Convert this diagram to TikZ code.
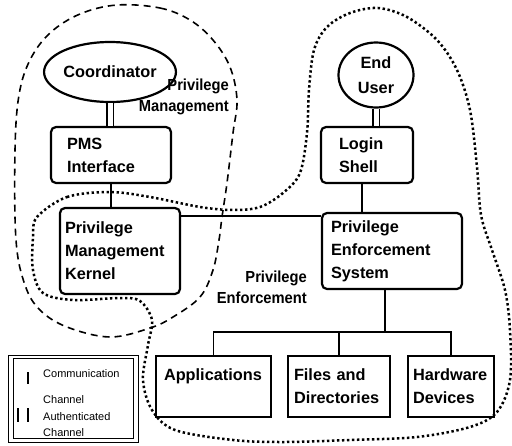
\documentclass[tikz,border=0pt]{standalone}
\usepackage{fontspec}
\setmainfont{Liberation Sans}
\newfontfamily\narrowsans[FakeStretch=0.92]{Liberation Sans}
\usetikzlibrary{shapes.geometric}

\begin{document}
\begin{tikzpicture}[x=1pt, y=-1pt,
    box/.style={draw, line width=2.2pt, rounded corners=5pt, inner sep=0pt,
      align=left, font=\fontsize{16.3}{23}\selectfont\bfseries},
    leaf/.style={box, sharp corners},
    actor/.style={draw, ellipse, line width=2.2pt, inner sep=0pt, align=center,
      font=\fontsize{16.3}{25}\selectfont\bfseries},
    link/.style={line width=1.9pt},
    authlink/.style={line width=1.9pt, double, double distance=5pt},
    tag/.style={inner sep=0pt, align=right,
      font=\narrowsans\fontsize{16}{21}\selectfont\bfseries},
    keytext/.style={inner sep=0pt, anchor=base west, font=\fontsize{11}{12}\selectfont},
    mgmtzone/.style={line width=1.6pt, dash pattern=on 7pt off 5pt},
    enfzone/.style={line width=2.5pt, dash pattern=on 2.4pt off 2.6pt}]
    \useasboundingbox (0,0) rectangle (512,445);

    % Regions
    \draw[mgmtzone] plot[smooth cycle, tension=0.6] coordinates {
        (117,5) (160,8) (190,20) (213,40) (230,67) (237,100) (233,133) (227,183)
        (222,217) (219,240) (213,270) (200,297) (173,317) (150,328) (110,337)
        (67,327) (40,310) (25,285) (16,240) (15,150) (19,95) (30,60) (50,33) (80,14)};
    \draw[enfzone] plot[smooth cycle, tension=0.55] coordinates {
        (37,217) (67,197) (110,192) (150,197) (200,207) (233,210) (260,207)
        (283,193) (300,173) (307,133) (309,90) (314,50) (327,27) (350,13) (378,8)
        (407,17) (437,40) (457,70) (470,110) (477,167) (481,215) (492,250)
        (505,290) (510,330) (510,380) (497,412) (470,427) (417,437) (350,440)
        (283,442) (233,440) (175,430) (152,410) (143,380) (148,345) (152,320)
        (140,301) (120,298) (73,300) (43,293) (33,270) (33,237)};

    % Actors
    \node[actor, minimum width=112pt, minimum height=60pt] (coord) at (110,72) {Coordinator};
    \node[actor, minimum width=75pt, minimum height=65pt] (user) at (376,75) {End\\User};

    % Upper boxes
    \node[box, minimum width=120pt, minimum height=56pt, text width=88pt] (pms) at (111,155) {PMS\\Interface};
    \node[box, minimum width=120pt, minimum height=86pt, text width=110pt] (pmk) at (120,251) {Privilege\\Management\\Kernel};
    \node[box, minimum width=92pt, minimum height=56pt, text width=56pt] (login) at (367,155) {Login\\Shell};
    \node[box, minimum width=140pt, minimum height=76pt, text width=122pt] (pes) at (392,251) {Privilege\\Enforcement\\System};

    % Protected objects
    \node[leaf, minimum width=115pt, minimum height=61pt, text width=99pt] (apps) at (213.5,386.5) {Applications\\\mbox{}};
    \node[leaf, minimum width=102pt, minimum height=61pt, text width=90pt] (files) at (339,386.5) {Files and\\Directories};
    \node[leaf, minimum width=86pt, minimum height=61pt, text width=76pt] (hw) at (451,386.5) {Hardware\\Devices};

    % Region labels
    \node[tag, anchor=north east] (mgmtlabel) at (229,79) {Privilege\\Management};
    \node[tag, anchor=north east] (enflabel) at (307,271) {Privilege\\Enforcement};

    % Channels
    \draw[authlink] (coord.south) -- (coord.south |- pms.north);
    \draw[authlink] (user.south) -- (user.south |- login.north);
    \draw[link] (pms.south) -- (pms.south |- pmk.north);
    \draw[link] ([yshift=-9pt]pmk.north east) -- ([yshift=-9pt]pmk.north east -| pes.west);
    \draw[link] ([xshift=-5pt]login.south) -- ([xshift=-5pt]login.south |- pes.north);
    \coordinate (bus) at (0,332);
    \draw[link] ([xshift=-7pt]pes.south) -- ([xshift=-7pt]pes.south |- bus);
    \draw[link] (apps.north) -- (apps.north |- bus) -- (hw.north |- bus) -- (hw.north);
    \draw[link] (files.north) -- (files.north |- bus);

    % Key
    \draw[line width=1pt] (8,355) rectangle (138,442);
    \draw[line width=1pt] (13,358) rectangle (133,438);
    \draw[line width=2.6pt] (28,372) -- (28,384);
    \draw[line width=2.6pt] (18,408) -- (18,422);
    \draw[line width=2.6pt] (28,408) -- (28,422);
    \node[keytext] (comm) at (43,377) {Communication};
    \node[keytext] (commb) at (43,403) {Channel};
    \node[keytext] (auth) at (43,420) {Authenticated};
    \node[keytext] (authb) at (43,436) {Channel};
\end{tikzpicture}
\end{document}
